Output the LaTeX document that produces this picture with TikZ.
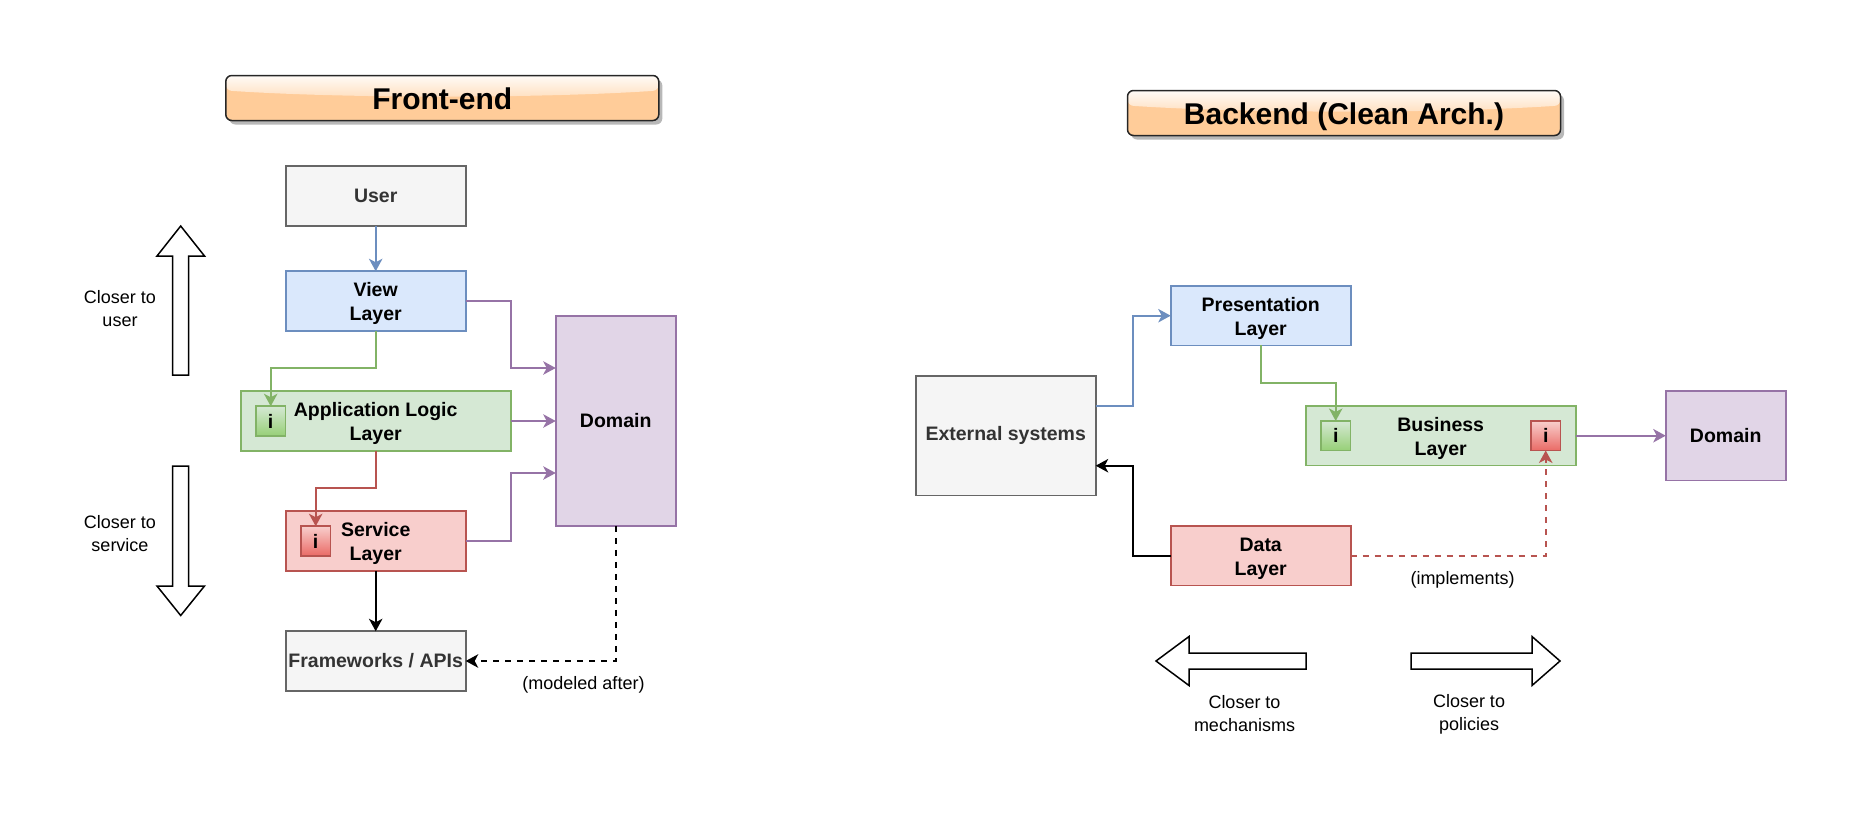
\documentclass[tikz,border=0pt]{standalone}
\usepackage{fontspec}
\setmainfont{Liberation Sans}
\usetikzlibrary{arrows.meta,shadows}
\definecolor{bluef}{HTML}{DAE8FC}\definecolor{bluel}{HTML}{6C8EBF}
\definecolor{greenf}{HTML}{D5E8D4}\definecolor{greenl}{HTML}{82B366}\definecolor{greend}{HTML}{97D077}
\definecolor{redf}{HTML}{F8CECC}\definecolor{redl}{HTML}{B85450}\definecolor{redd}{HTML}{EA6B66}
\definecolor{purf}{HTML}{E1D5E7}\definecolor{purl}{HTML}{9673A6}
\definecolor{grayf}{HTML}{F5F5F5}\definecolor{grayl}{HTML}{666666}\definecolor{grayt}{HTML}{333333}
\definecolor{oran}{HTML}{FFCC99}
\newcommand{\firstline}{\rule{0pt}{19pt}}
\tikzset{
  x=1pt,y=-1pt,
  base/.style={draw,line width=1.7pt,inset sep,anchor=center,align=center,font=\fontsize{19.5}{24.3}\selectfont\bfseries,text=black},
  inset sep/.style={inner sep=0pt,outer sep=0pt},
  graybox/.style={base,fill=grayf,draw=grayl,text=grayt},
  bluebox/.style={base,fill=bluef,draw=bluel},
  greenbox/.style={base,fill=greenf,draw=greenl},
  redbox/.style={base,fill=redf,draw=redl},
  purbox/.style={base,fill=purf,draw=purl},
  ibase/.style={base,minimum width=29.5pt,minimum height=29.5pt},
  igreen/.style={ibase,draw=greenl,top color=greenf,bottom color=greend},
  ired/.style={ibase,draw=redl,top color=redf,bottom color=redd},
  std/.style={minimum width=180pt,minimum height=59.5pt},
  link/.style={line width=1.7pt,-{Stealth[length=12.5pt,width=13.5pt,inset=3.5pt]}},
  note/.style={inset sep,anchor=center,align=center,font=\fontsize{18}{23}\selectfont},
  bigarrow/.style={draw=black,line width=1.5pt,fill=white,line join=miter},
  titlebox/.style={draw=black!85,line width=1.5pt,rounded corners=6pt,fill=oran,
    minimum width=433pt,minimum height=45pt,inset sep,anchor=center,
    text height=22pt,text depth=0pt,
    font=\fontsize{30}{34}\selectfont\bfseries,
    drop shadow={shadow xshift=3.5pt,shadow yshift=-4pt,fill=black!28,opacity=1},
    path picture={
      \begin{scope}
        \clip (path picture bounding box.north west) -- (path picture bounding box.north east)
          -- ([yshift=-15pt]path picture bounding box.north east)
          .. controls ([xshift=-120pt,yshift=-23pt]path picture bounding box.north east)
          and ([xshift=120pt,yshift=-23pt]path picture bounding box.north west)
          .. ([yshift=-15pt]path picture bounding box.north west) -- cycle;
        \shade[top color=white!92!oran,bottom color=white!35!oran]
          (path picture bounding box.north west) rectangle ([yshift=-23pt]path picture bounding box.north east);
      \end{scope}
    }},
}
\begin{document}
\begin{tikzpicture}
\useasboundingbox (0,0) rectangle (1862,812);
% titles
\node[titlebox] (tfront) at (442.3,98) {Front-end};
\node[titlebox] (tback) at (1344,113) {Backend (Clean Arch.)};
% front-end
\node[graybox,std] (user) at (375.7,196) {User};
\node[bluebox,std] (view) at (375.7,301) {\firstline View\\Layer};
\node[greenbox,minimum width=270pt,minimum height=59.5pt] (app) at (375.7,421) {\firstline Application Logic\\Layer};
\node[igreen] (iapp) at (270.7,421) {i};
\node[redbox,std] (serv) at (375.7,541) {\firstline Service\\Layer};
\node[ired] (iserv) at (315.7,541) {i};
\node[graybox,std] (fw) at (375.7,661) {Frameworks / APIs};
\node[purbox,minimum width=120pt,minimum height=209.5pt] (domf) at (615.7,421) {Domain};
\coordinate (va) at (510.7,368);
\coordinate (da) at (555.7,368);
\coordinate (sa) at (510.7,473);
\coordinate (db) at (555.7,473);
\coordinate (ga) at (270.7,368);
\coordinate (ra) at (315.7,488);
\draw[link,color=bluel] (user) -- (view);
\draw[link,color=purl] (view.east) -| (va) -- (da);
\draw[link,color=purl] (app.east) -- (domf.west |- app.east);
\draw[link,color=purl] (serv.east) -| (sa) -- (db);
\draw[link,color=greenl] (view.south) |- (ga) -- (iapp.north);
\draw[link,color=redl] (app.south) |- (ra) -- (iserv.north);
\draw[link,color=black] (serv.south) -- (fw.north);
\draw[link,color=black,dashed,dash pattern=on 6pt off 6pt] (domf.south) |- (fw.east);
\node[note] (nmod) at (583.5,685) {(modeled after)};
\node[note] (ncu) at (120,308.5) {Closer to\\user};
\node[note] (ncs) at (120,533.5) {Closer to\\service};
\draw[bigarrow] (172.7,375) -- (172.7,256) -- (157,256) -- (180.7,226) -- (204.5,256) -- (188.7,256) -- (188.7,375) -- cycle;
\draw[bigarrow] (172.7,466) -- (172.7,586) -- (157,586) -- (180.7,615.5) -- (204.5,586) -- (188.7,586) -- (188.7,466) -- cycle;
% backend
\node[graybox,std,minimum height=119.5pt] (ext) at (1005.7,435.7) {External systems};
\node[bluebox,std] (pres) at (1260.7,315.7) {\firstline Presentation\\Layer};
\node[greenbox,minimum width=270pt,minimum height=59.5pt] (bus) at (1440.7,435.7) {\firstline Business\\Layer};
\node[igreen] (ibg) at (1335.7,435.7) {i};
\node[ired] (ibr) at (1545.7,435.7) {i};
\node[purbox,minimum width=120pt,minimum height=89.5pt] (domb) at (1725.7,435.7) {Domain};
\node[redbox,std] (data) at (1260.7,555.7) {\firstline Data\\Layer};
\coordinate (ea) at (1133,405.7);
\coordinate (ha) at (1133,315.7);
\coordinate (pa) at (1335.7,383.3);
\coordinate (ka) at (1133,465.7);
\coordinate (xe) at (ext.east |- ka);
\coordinate (xo) at (ext.east |- ea);
\draw[link,color=bluel] (xo) -- (ea) -- (ha) -- (pres.west);
\draw[link,color=greenl] (pres.south) |- (pa) -- (ibg.north);
\draw[link,color=purl] (bus.east) -- (domb.west);
\draw[link,color=black] (data.west) -| (ka) -- (xe);
\draw[link,color=redl,dashed,dash pattern=on 6pt off 6pt] (data.east) -| (ibr.south);
\node[note] (nimp) at (1462.5,580) {(implements)};
\draw[bigarrow] (1306,653) -- (1189,653) -- (1189,636.5) -- (1156,661) -- (1189,685.5) -- (1189,669) -- (1306,669) -- cycle;
\draw[bigarrow] (1411,653) -- (1532,653) -- (1532,636.5) -- (1560,661) -- (1532,685.5) -- (1532,669) -- (1411,669) -- cycle;
\node[note] (ncm) at (1244.5,713.5) {Closer to\\mechanisms};
\node[note] (ncp) at (1469,714.5) {Closer to\\policies};
\end{tikzpicture}
\end{document}
